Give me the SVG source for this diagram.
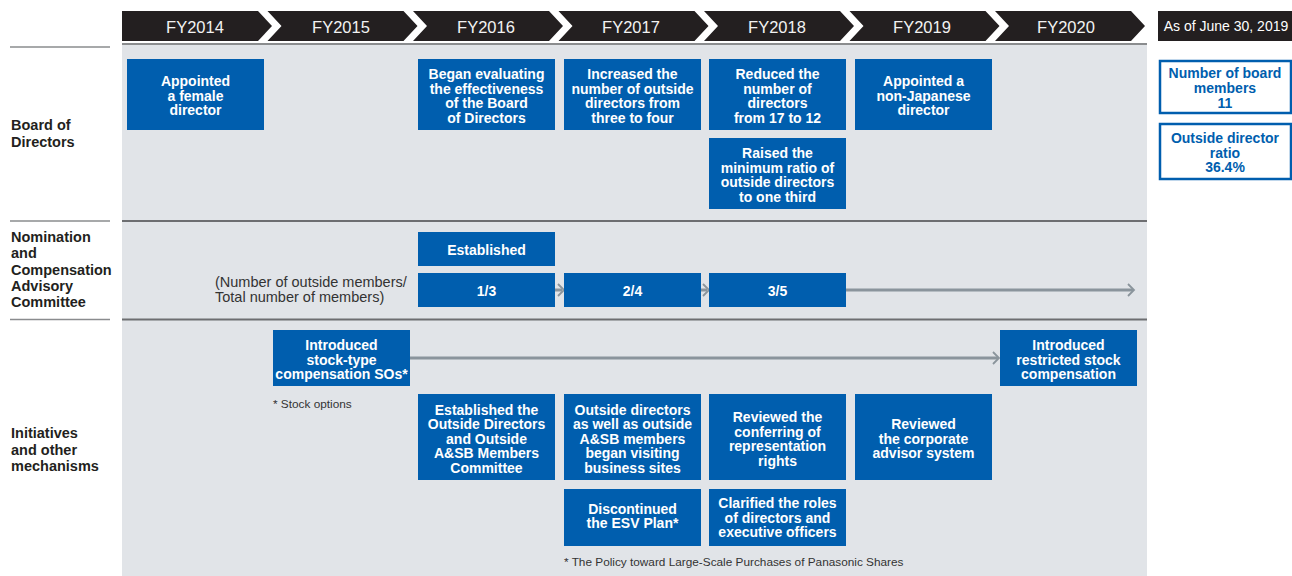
<svg xmlns="http://www.w3.org/2000/svg" width="1292" height="576" viewBox="0 0 1292 576">
<style>
.hdr{fill:#231f20}
.ht{fill:#f2f2f2;font-family:"Liberation Sans",Arial,sans-serif;font-size:16.5px;text-anchor:middle}
.box{fill:#005eae}
.bt{fill:#ffffff;font-family:"Liberation Sans",Arial,sans-serif;font-size:14px;font-weight:bold;text-anchor:middle}
.lbl{fill:#231f20;font-family:"Liberation Sans",Arial,sans-serif;font-size:14.5px;font-weight:bold}
.note{fill:#333333;font-family:"Liberation Sans",Arial,sans-serif;font-size:14.5px}
.fn{fill:#333333;font-family:"Liberation Sans",Arial,sans-serif;font-size:11.8px}
.sep{stroke:#6d6e71;stroke-width:2}
.lsep{stroke:#8a8c8e;stroke-width:1.5}
.rbox{fill:#ffffff;stroke:#005eae;stroke-width:2.5}
.rt{fill:#005eae;font-family:"Liberation Sans",Arial,sans-serif;font-size:14px;font-weight:bold;text-anchor:middle}
.arr{fill:none;stroke:#8a949c;stroke-width:3}
.head{fill:none;stroke:#8a949c;stroke-width:1.8}
</style>

<!-- panel background -->
<rect x="122" y="43" width="1025" height="533" fill="#e1e4e8"/>
<line x1="122" y1="44" x2="1147" y2="44" stroke="#8a8c8e" stroke-width="2"/>
<line class="sep" x1="122" y1="221" x2="1147" y2="221"/>
<line class="sep" x1="122" y1="319.5" x2="1147" y2="319.5"/>
<line class="lsep" x1="10" y1="47" x2="110" y2="47"/>
<line class="lsep" x1="10" y1="221" x2="110" y2="221"/>
<line class="lsep" x1="10" y1="319.5" x2="110" y2="319.5"/>

<!-- header chevrons -->
<g id="header">
<polygon class="hdr" points="122,11 258,11 272,26 258,41 122,41"/>
<polygon class="hdr" points="267.5,11 403.5,11 417.5,26 403.5,41 267.5,41 281.5,26"/>
<polygon class="hdr" points="413,11 549,11 563,26 549,41 413,41 427,26"/>
<polygon class="hdr" points="558.5,11 694.5,11 708.5,26 694.5,41 558.5,41 572.5,26"/>
<polygon class="hdr" points="704,11 840,11 854,26 840,41 704,41 718,26"/>
<polygon class="hdr" points="849.5,11 985.5,11 999.5,26 985.5,41 849.5,41 863.5,26"/>
<polygon class="hdr" points="995,11 1131,11 1145,26 1131,41 995,41 1009,26"/>
<text class="ht" x="195" y="33">FY2014</text>
<text class="ht" x="341" y="33">FY2015</text>
<text class="ht" x="486" y="33">FY2016</text>
<text class="ht" x="631" y="33">FY2017</text>
<text class="ht" x="777" y="33">FY2018</text>
<text class="ht" x="922" y="33">FY2019</text>
<text class="ht" x="1066" y="33">FY2020</text>
</g>

<g id="asof">
<rect class="hdr" x="1158" y="11" width="134" height="30"/>
<text x="1226" y="31" fill="#ffffff" font-family="Liberation Sans, Arial, sans-serif" font-size="14" text-anchor="middle">As of June 30, 2019</text>
</g>
<g id="board-members">
<rect class="rbox" x="1160" y="61" width="131" height="52"/>
<text class="rt" x="1225" y="78">Number of board</text>
<text class="rt" x="1225" y="93">members</text>
<text class="rt" x="1225" y="108">11</text>
</g>
<g id="outside-ratio">
<rect class="rbox" x="1160" y="124" width="131" height="55"/>
<text class="rt" x="1225" y="143">Outside director</text>
<text class="rt" x="1225" y="157.5">ratio</text>
<text class="rt" x="1225" y="172">36.4%</text>
</g>

<!-- row labels -->
<g id="label-board">
<text class="lbl" x="11" y="130">Board of</text>
<text class="lbl" x="11" y="147">Directors</text>
</g>
<g id="label-nomination">
<text class="lbl" x="11" y="242">Nomination</text>
<text class="lbl" x="11" y="258">and</text>
<text class="lbl" x="11" y="274.5">Compensation</text>
<text class="lbl" x="11" y="291">Advisory</text>
<text class="lbl" x="11" y="307">Committee</text>
</g>
<g id="label-initiatives">
<text class="lbl" x="11" y="438">Initiatives</text>
<text class="lbl" x="11" y="455">and other</text>
<text class="lbl" x="11" y="471">mechanisms</text>
</g>

<!-- connectors -->
<g id="connectors">
<line class="arr" x1="846" y1="290" x2="1133" y2="290"/>
<polyline class="head" points="1128,284 1134,290 1128,296"/>
<line class="arr" x1="555" y1="290" x2="562" y2="290"/>
<polyline class="head" points="558,284 564,290 558,296"/>
<line class="arr" x1="701" y1="290" x2="707" y2="290"/>
<polyline class="head" points="703,284 709,290 703,296"/>
<line class="arr" x1="410" y1="358" x2="998" y2="358"/>
<polyline class="head" points="993,352 999,358 993,364"/>
</g>

<!-- Board of Directors nodes -->
<g id="b2014">
<rect class="box" x="127" y="59" width="137" height="71"/>
<text class="bt" x="195.5" y="86">Appointed</text>
<text class="bt" x="195.5" y="100.5">a female</text>
<text class="bt" x="195.5" y="115">director</text>
</g>
<g id="b2016">
<rect class="box" x="418" y="59" width="137" height="71"/>
<text class="bt" x="486.5" y="79">Began evaluating</text>
<text class="bt" x="486.5" y="93.5">the effectiveness</text>
<text class="bt" x="486.5" y="108">of the Board</text>
<text class="bt" x="486.5" y="122.5">of Directors</text>
</g>
<g id="b2017">
<rect class="box" x="564" y="59" width="137" height="71"/>
<text class="bt" x="632.5" y="79">Increased the</text>
<text class="bt" x="632.5" y="93.5">number of outside</text>
<text class="bt" x="632.5" y="108">directors from</text>
<text class="bt" x="632.5" y="122.5">three to four</text>
</g>
<g id="b2018a">
<rect class="box" x="709" y="59" width="137" height="71"/>
<text class="bt" x="777.5" y="79">Reduced the</text>
<text class="bt" x="777.5" y="93.5">number of</text>
<text class="bt" x="777.5" y="108">directors</text>
<text class="bt" x="777.5" y="122.5">from 17 to 12</text>
</g>
<g id="b2019">
<rect class="box" x="855" y="59" width="137" height="71"/>
<text class="bt" x="923.5" y="86">Appointed a</text>
<text class="bt" x="923.5" y="100.5">non-Japanese</text>
<text class="bt" x="923.5" y="115">director</text>
</g>
<g id="b2018b">
<rect class="box" x="709" y="138" width="137" height="71"/>
<text class="bt" x="777.5" y="158">Raised the</text>
<text class="bt" x="777.5" y="172.5">minimum ratio of</text>
<text class="bt" x="777.5" y="187">outside directors</text>
<text class="bt" x="777.5" y="201.5">to one third</text>
</g>

<!-- Nomination nodes -->
<g id="n-established">
<rect class="box" x="418" y="232" width="137" height="34"/>
<text class="bt" x="486.5" y="255">Established</text>
</g>
<g id="n-note">
<text class="note" x="215" y="287">(Number of outside members/</text>
<text class="note" x="215" y="302">Total number of members)</text>
</g>
<g id="n13">
<rect class="box" x="418" y="273" width="137" height="34"/>
<text class="bt" x="486.5" y="296">1/3</text>
</g>
<g id="n24">
<rect class="box" x="564" y="273" width="137" height="34"/>
<text class="bt" x="632.5" y="296">2/4</text>
</g>
<g id="n35">
<rect class="box" x="709" y="273" width="137" height="34"/>
<text class="bt" x="777.5" y="296">3/5</text>
</g>

<!-- Initiatives nodes -->
<g id="i-stocktype">
<rect class="box" x="273" y="330" width="137" height="56"/>
<text class="bt" x="341.5" y="350">Introduced</text>
<text class="bt" x="341.5" y="364.5">stock-type</text>
<text class="bt" x="341.5" y="379">compensation SOs*</text>
</g>
<g id="i-stocknote">
<text class="fn" x="273" y="408">* Stock options</text>
</g>
<g id="i-restricted">
<rect class="box" x="1000" y="330" width="137" height="56"/>
<text class="bt" x="1068.5" y="350">Introduced</text>
<text class="bt" x="1068.5" y="364.5">restricted stock</text>
<text class="bt" x="1068.5" y="379">compensation</text>
</g>
<g id="i-committee">
<rect class="box" x="418" y="394" width="137" height="86"/>
<text class="bt" x="486.5" y="414.5">Established the</text>
<text class="bt" x="486.5" y="429">Outside Directors</text>
<text class="bt" x="486.5" y="443.5">and Outside</text>
<text class="bt" x="486.5" y="458">A&amp;SB Members</text>
<text class="bt" x="486.5" y="472.5">Committee</text>
</g>
<g id="i-visits">
<rect class="box" x="564" y="394" width="137" height="86"/>
<text class="bt" x="632.5" y="414.5">Outside directors</text>
<text class="bt" x="632.5" y="429">as well as outside</text>
<text class="bt" x="632.5" y="443.5">A&amp;SB members</text>
<text class="bt" x="632.5" y="458">began visiting</text>
<text class="bt" x="632.5" y="472.5">business sites</text>
</g>
<g id="i-representation">
<rect class="box" x="709" y="394" width="137" height="86"/>
<text class="bt" x="777.5" y="422">Reviewed the</text>
<text class="bt" x="777.5" y="436.5">conferring of</text>
<text class="bt" x="777.5" y="451">representation</text>
<text class="bt" x="777.5" y="465.5">rights</text>
</g>
<g id="i-advisor">
<rect class="box" x="855" y="394" width="137" height="86"/>
<text class="bt" x="923.5" y="429">Reviewed</text>
<text class="bt" x="923.5" y="443.5">the corporate</text>
<text class="bt" x="923.5" y="458">advisor system</text>
</g>
<g id="i-esv">
<rect class="box" x="564" y="489" width="137" height="57"/>
<text class="bt" x="632.5" y="513.5">Discontinued</text>
<text class="bt" x="632.5" y="528">the ESV Plan*</text>
</g>
<g id="i-roles">
<rect class="box" x="709" y="489" width="137" height="57"/>
<text class="bt" x="777.5" y="508">Clarified the roles</text>
<text class="bt" x="777.5" y="522.5">of directors and</text>
<text class="bt" x="777.5" y="537">executive officers</text>
</g>
<g id="i-esvnote">
<text class="fn" x="564" y="566">* The Policy toward Large-Scale Purchases of Panasonic Shares</text>
</g>
</svg>
